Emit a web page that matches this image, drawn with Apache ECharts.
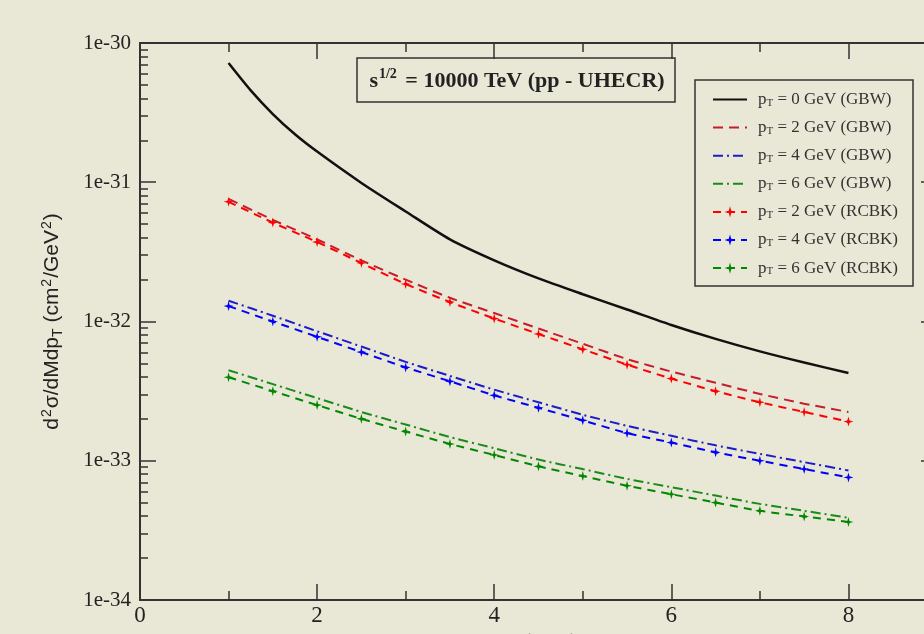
<!DOCTYPE html>
<html>
<head>
<meta charset="utf-8">
<script src="https://cdn.jsdelivr.net/npm/echarts@6/dist/echarts.min.js"></script>
<style>
  html, body { margin: 0; padding: 0; background: #e9e7d5; }
  #main { width: 924px; height: 634px; }
</style>
</head>
<body>
<div id="main"></div>
<script>
// invariant mass M (GeV)
var massBlack = [1, 1.25, 1.5, 1.75, 2, 2.5, 3, 3.5, 4, 4.5, 5, 5.5, 6, 6.5, 7, 7.5, 8];
var mass = [1, 1.5, 2, 2.5, 3, 3.5, 4, 4.5, 5, 5.5, 6, 6.5, 7, 7.5, 8];

// d2sigma/dMdpT (cm^2/GeV^2)
var gbw0 = [7.18e-31, 4.57e-31, 3.09e-31, 2.21e-31, 1.66e-31, 9.89e-32, 6.17e-32, 3.89e-32, 2.75e-32,
            2.04e-32, 1.57e-32, 1.22e-32, 9.44e-33, 7.50e-33, 6.10e-33, 5.07e-33, 4.27e-33];
var gbw2 = [7.59e-32, 5.37e-32, 3.89e-32, 2.75e-32, 2.00e-32, 1.48e-32, 1.15e-32, 8.91e-33,
            6.92e-33, 5.37e-33, 4.37e-33, 3.63e-33, 3.02e-33, 2.57e-33, 2.24e-33];
var gbw4 = [1.41e-32, 1.10e-32, 8.51e-33, 6.61e-33, 5.13e-33, 4.07e-33, 3.24e-33, 2.63e-33,
            2.14e-33, 1.78e-33, 1.51e-33, 1.29e-33, 1.12e-33, 9.77e-34, 8.51e-34];
var gbw6 = [4.47e-33, 3.55e-33, 2.82e-33, 2.24e-33, 1.82e-33, 1.48e-33, 1.23e-33, 1.02e-33,
            8.71e-34, 7.41e-34, 6.46e-34, 5.62e-34, 4.90e-34, 4.37e-34, 3.89e-34];
var rcbk2 = [7.24e-32, 5.13e-32, 3.72e-32, 2.63e-32, 1.86e-32, 1.38e-32, 1.05e-32, 8.13e-33,
             6.31e-33, 4.90e-33, 3.89e-33, 3.16e-33, 2.63e-33, 2.24e-33, 1.91e-33];
var rcbk4 = [1.29e-32, 1.00e-32, 7.76e-33, 6.03e-33, 4.68e-33, 3.72e-33, 2.95e-33, 2.40e-33,
             1.95e-33, 1.58e-33, 1.35e-33, 1.15e-33, 1.00e-33, 8.71e-34, 7.59e-34];
var rcbk6 = [3.98e-33, 3.16e-33, 2.51e-33, 2.00e-33, 1.62e-33, 1.32e-33, 1.10e-33, 9.12e-34,
             7.76e-34, 6.61e-34, 5.75e-34, 5.01e-34, 4.37e-34, 3.98e-34, 3.63e-34];

// y tick labels are decades: 1e-34 ... 1e-30 (exponents)
var decades = [-34, -33, -32, -31, -30];
var minorLog = [];
decades.slice(0, 4).forEach(function (e) {
  for (var k = 2; k <= 9; k++) minorLog.push(e + Math.log10(k));
});

var names = ['0 GeV (GBW)', '2 GeV (GBW)', '4 GeV (GBW)', '6 GeV (GBW)',
             '2 GeV (RCBK)', '4 GeV (RCBK)', '6 GeV (RCBK)'];

function pairs(xs, ys) { return xs.map(function (x, i) { return [x, ys[i]]; }); }

var serif = '"Liberation Serif", "DejaVu Serif", serif';
var sans = '"Liberation Sans", Arial, sans-serif';
var frame = '#333333';
var star = 'path://M0,-6L1.3,-1.3L6,0L1.3,1.3L0,6L-1.3,1.3L-6,0L-1.3,-1.3Z';

// log axis that carries the data
function logAx(pos) {
  return {
    type: 'log', logBase: 10, min: 1e-34, max: 1e-30, position: pos,
    axisLine: { show: true, lineStyle: { color: frame, width: 2 } },
    axisTick: { show: true, inside: true, length: 16, lineStyle: { color: frame, width: 1.5 } },
    axisLabel: { show: false },
    splitLine: { show: false }
  };
}
// plain exponent axis used only for minor ticks / labels
function expAx(pos, extra) {
  return Object.assign({
    type: 'value', min: -34, max: -30, interval: 1, position: pos,
    axisLine: { show: false },
    axisTick: { show: false },
    axisLabel: { show: false },
    splitLine: { show: false }
  }, extra);
}
function minorAx(pos) {
  return expAx(pos, {
    axisTick: { show: true, inside: true, length: 8, customValues: minorLog, lineStyle: { color: frame, width: 1.5 } }
  });
}
function xAx(pos, labels) {
  return {
    type: 'value', min: 0, max: 9, interval: 2, position: pos,
    name: labels ? 'M (GeV)' : '', nameLocation: 'middle', nameGap: 27,
    nameTextStyle: { fontFamily: serif, fontSize: 21, color: '#222' },
    axisLine: { show: true, onZero: false, lineStyle: { color: frame, width: 2 } },
    axisTick: { inside: true, length: 16, lineStyle: { color: frame, width: 1.5 } },
    minorTick: { show: true, splitNumber: 2, length: 9, lineStyle: { color: frame, width: 1.5 } },
    axisLabel: labels ? { fontFamily: serif, fontSize: 23, color: '#222', margin: 4, showMaxLabel: false, showMinLabel: true } : { show: false },
    splitLine: { show: false }
  };
}

function line(name, xs, ys, color, dash, width, sym) {
  return {
    name: name, type: 'line', data: pairs(xs, ys), smooth: 0.25,
    symbol: sym ? star : 'none', symbolSize: 10, showSymbol: !!sym,
    itemStyle: { color: color },
    lineStyle: { color: color, width: width, type: dash },
    z: sym ? 3 : 2
  };
}

var chart = echarts.init(document.getElementById('main'));
chart.setOption({
  backgroundColor: '#e9e7d5',
  animation: false,
  grid: { left: 140, top: 43, width: 797, height: 557, outerBoundsMode: 'none', containLabel: false },
  xAxis: [xAx('bottom', true), xAx('top', false)],
  yAxis: [
    logAx('left'),
    expAx('left', {
      axisLabel: {
        show: true, showMinLabel: true, showMaxLabel: true, hideOverlap: false,
        fontFamily: serif, fontSize: 21, color: '#222', margin: 9,
        formatter: function (v) { return '1e' + v; }
      },
      name: '{n|d}{sup|2}{n|σ/dMdp}{sub|T}{n| (cm}{sup|2}{n|/GeV}{sup|2}{n|)}',
      nameLocation: 'middle', nameGap: 75, nameMoveOverlap: false,
      nameTextStyle: {
        rich: {
          n: { fontFamily: sans, fontSize: 21, color: '#222' },
          sup: { fontFamily: sans, fontSize: 14, color: '#222', padding: [0, 1, 11, 1] },
          sub: { fontFamily: sans, fontSize: 14, color: '#222', padding: [11, 0, 0, 0] }
        }
      }
    }),
    minorAx('left'),
    logAx('right'),
    minorAx('right')
  ],
  legend: {
    orient: 'vertical', left: 707, top: 86, itemWidth: 34, itemHeight: 14, itemGap: 10.6,
    selectedMode: false,
    data: names.map(function (n, i) {
      return i < 4 ? { name: n, itemStyle: { color: 'rgba(0,0,0,0)', borderWidth: 0 } } : { name: n };
    }),
    formatter: function (n) { return '{p|p}{s|T}{t| = ' + n + '}'; },
    textStyle: {
      rich: {
        p: { fontFamily: serif, fontSize: 17, color: '#333', padding: [0, 0, 0, 6] },
        s: { fontFamily: serif, fontSize: 11, color: '#333', padding: [7, 0, 0, 0] },
        t: { fontFamily: serif, fontSize: 17, color: '#333' }
      }
    }
  },
  graphic: [
    { type: 'rect', shape: { x: 695, y: 80, width: 218, height: 206 },
      style: { fill: 'none', stroke: frame, lineWidth: 1.5 }, z: 10 },
    { type: 'rect', shape: { x: 357, y: 58, width: 318, height: 44 },
      style: { fill: 'none', stroke: frame, lineWidth: 1.5 }, z: 10 },
    { type: 'text', x: 517, y: 81, z: 10,
      style: {
        text: '{b|s}{sup|1/2}{b| = 10000 TeV (pp - UHECR)}',
        align: 'center', verticalAlign: 'middle',
        rich: {
          b: { fontFamily: serif, fontWeight: 'bold', fontSize: 22, fill: '#222' },
          sup: { fontFamily: serif, fontWeight: 'bold', fontSize: 14, fill: '#222', padding: [0, 3, 13, 1] }
        }
      } }
  ],
  series: [
    line(names[0], massBlack, gbw0, '#111111', 'solid', 2.5, false),
    line(names[1], mass, gbw2, '#c41e2c', [10, 6], 2, false),
    line(names[2], mass, gbw4, '#1c1cc8', [10, 4, 2, 4], 2, false),
    line(names[3], mass, gbw6, '#1a8a1a', [10, 4, 2, 4], 2, false),
    line(names[4], mass, rcbk2, '#ff0000', [8, 6], 2, true),
    line(names[5], mass, rcbk4, '#0000ff', [8, 6], 2, true),
    line(names[6], mass, rcbk6, '#008800', [8, 6], 2, true)
  ]
});
</script>
</body>
</html>
